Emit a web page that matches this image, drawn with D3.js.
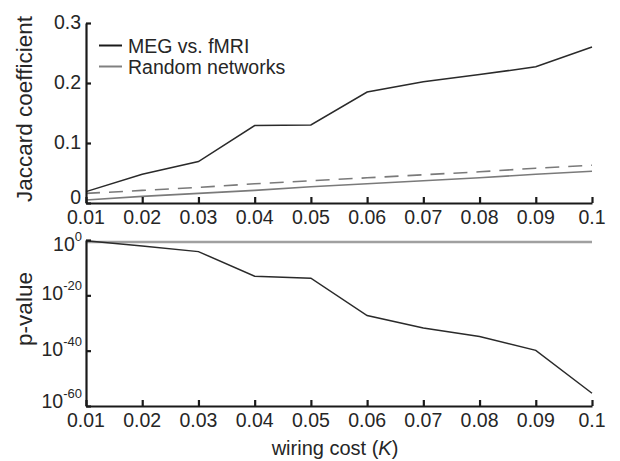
<!DOCTYPE html>
<html>
<head>
<meta charset="utf-8">
<script src="https://cdn.jsdelivr.net/npm/d3@7"></script>
<style>
  body { margin: 0; background: #fff; }
  svg text { font-family: "Liberation Sans", Arial, sans-serif; fill: #262626; }
</style>
</head>
<body>
<div id="chart"></div>
<script>
// wiring cost K
var costs = [0.01, 0.02, 0.03, 0.04, 0.05, 0.06, 0.07, 0.08, 0.09, 0.1];
var costTicks = ["0.01", "0.02", "0.03", "0.04", "0.05", "0.06", "0.07", "0.08", "0.09", "0.1"];

// Jaccard coefficient
var megVsFmri = [0.019, 0.048, 0.069, 0.129, 0.130, 0.185, 0.202, 0.214, 0.227, 0.260];
var randomMean = [0.005, 0.011, 0.016, 0.021, 0.027, 0.032, 0.037, 0.042, 0.048, 0.053];
var randomUpper = [0.016, 0.021, 0.026, 0.032, 0.037, 0.042, 0.047, 0.052, 0.058, 0.063];
var jaccardTicks = [0, 0.1, 0.2, 0.3];

// p-values, stored as log10 exponents
var pExpMeg = [-0.3, -2.2, -4.2, -13.1, -13.8, -27.3, -31.8, -34.9, -39.9, -55.4];
var pExpRandom = [-0.7, -0.7, -0.7, -0.7, -0.7, -0.7, -0.7, -0.7, -0.7, -0.7];
var pTickExps = [0, -20, -40, -60];

var legendLabels = ["MEG vs. fMRI", "Random networks"];

var width = 620, height = 461;
var svg = d3.select("#chart").append("svg")
    .attr("width", width)
    .attr("height", height);

var x = d3.scaleLinear().domain([0.01, 0.1]).range([86, 592]);
var yTop = d3.scaleLinear().domain([0, 0.3]).range([203, 23]);
var yBot = d3.scaleLog().domain([1e-60, 1]).range([406, 240]);

function drawXAxis(g, y0) {
    var ax = g.append("g")
        .attr("transform", "translate(0," + y0 + ")")
        .call(d3.axisBottom(x).tickValues(costs).tickSize(-6).tickSizeOuter(0).tickFormat(""));
    ax.selectAll("path, line").attr("stroke", "#1a1a1a").attr("stroke-width", 2.2);
    g.selectAll(null).data(costs).enter().append("text")
        .attr("x", function(d) { return x(d); })
        .attr("y", y0 + 21)
        .attr("text-anchor", "middle")
        .style("font-size", "19.5px")
        .text(function(d, i) { return costTicks[i]; });
}

// ---------- top panel ----------
var topPanel = svg.append("g");

var lineTop = function(vals) {
    return d3.line()
        .x(function(d, i) { return x(costs[i]); })
        .y(function(d) { return yTop(d); })(vals);
};

topPanel.append("path").attr("d", lineTop(randomUpper))
    .attr("fill", "none").attr("stroke", "#7a7a7a").attr("stroke-width", 1.6)
    .attr("stroke-dasharray", "14,9");
topPanel.append("path").attr("d", lineTop(randomMean))
    .attr("fill", "none").attr("stroke", "#7a7a7a").attr("stroke-width", 1.6);
topPanel.append("path").attr("d", lineTop(megVsFmri))
    .attr("fill", "none").attr("stroke", "#2a2a2a").attr("stroke-width", 1.5);

var yAxTop = topPanel.append("g")
    .attr("transform", "translate(86,0)")
    .call(d3.axisLeft(yTop).tickValues(jaccardTicks).tickSize(-5).tickSizeOuter(0).tickFormat(""));
yAxTop.selectAll("path, line").attr("stroke", "#1a1a1a").attr("stroke-width", 2.2);
topPanel.selectAll(null).data(jaccardTicks).enter().append("text")
    .attr("x", 81)
    .attr("y", function(d) { return yTop(d) + (d === 0 ? 1 : 6); })
    .attr("text-anchor", "end")
    .style("font-size", "19.5px")
    .text(function(d) { return d === 0 ? "0" : d3.format(".1f")(d); });

drawXAxis(topPanel, 203);

topPanel.append("text")
    .attr("transform", "translate(32,109) rotate(-90)")
    .attr("text-anchor", "middle")
    .style("font-size", "22.5px")
    .text("Jaccard coefficient");

// legend
var legend = topPanel.append("g");
legendLabels.forEach(function(lab, i) {
    var ly = 45.5 + i * 21;
    legend.append("line")
        .attr("x1", 99).attr("x2", 122).attr("y1", ly).attr("y2", ly)
        .attr("stroke", i === 0 ? "#1a1a1a" : "#808080").attr("stroke-width", 2);
    legend.append("text")
        .attr("x", 128).attr("y", ly + 7)
        .style("font-size", "19.5px")
        .text(lab);
});

// ---------- bottom panel ----------
var bot = svg.append("g");

var lineBot = function(exps) {
    return d3.line()
        .x(function(d, i) { return x(costs[i]); })
        .y(function(d) { return yBot(Math.pow(10, d)); })(exps);
};

bot.append("path").attr("d", lineBot(pExpRandom))
    .attr("fill", "none").attr("stroke", "#a0a0a0").attr("stroke-width", 2.6);
bot.append("path").attr("d", lineBot(pExpMeg))
    .attr("fill", "none").attr("stroke", "#2a2a2a").attr("stroke-width", 1.5);

var yAxBot = bot.append("g")
    .attr("transform", "translate(86,0)")
    .call(d3.axisLeft(yBot)
        .tickValues(pTickExps.map(function(e) { return Math.pow(10, e); }))
        .tickSize(-5).tickSizeOuter(0).tickFormat(""));
yAxBot.selectAll("path, line").attr("stroke", "#1a1a1a").attr("stroke-width", 2.2);

// matlab nudges the end labels inwards
var pLabels = bot.selectAll(null).data(pTickExps).enter().append("text")
    .attr("x", 82)
    .attr("y", function(d, i) {
        var off = i === 0 ? 11 : (i === pTickExps.length - 1 ? 2 : 5);
        return yBot(Math.pow(10, d)) + off;
    })
    .attr("text-anchor", "end")
    .style("font-size", "19.5px");
pLabels.append("tspan").text("10");
pLabels.append("tspan")
    .attr("dy", -10)
    .style("font-size", "13px")
    .text(function(d) { return String(d); });

drawXAxis(bot, 406);

bot.append("text")
    .attr("transform", "translate(32,309) rotate(-90)")
    .attr("text-anchor", "middle")
    .style("font-size", "22.5px")
    .text("p-value");

var xl = bot.append("text")
    .attr("x", 335)
    .attr("y", 455)
    .attr("text-anchor", "middle")
    .style("font-size", "20px");
xl.append("tspan").text("wiring cost (");
xl.append("tspan").style("font-style", "italic").text("K");
xl.append("tspan").text(")");
</script>
</body>
</html>
